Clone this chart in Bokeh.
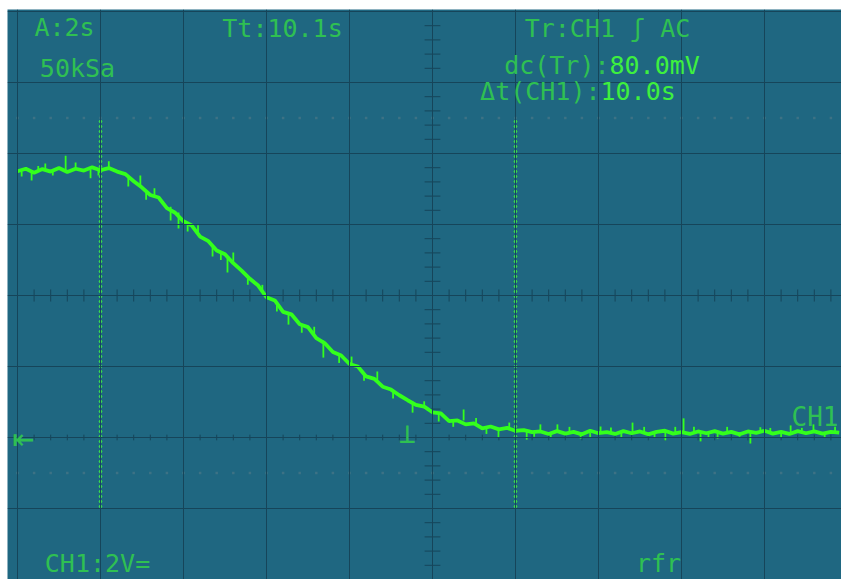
import numpy as np
from bokeh.plotting import figure
from bokeh.models import Range1d, Span, Label
from bokeh.embed import file_html
from bokeh.resources import INLINE

# ---------------- data ----------------
sample_dt = 0.2  # s between samples
ch1_volts = [
    # 0.0 .. 2.4 s (flat, ~7.5 V)
    7.50, 7.57, 7.46, 7.56, 7.49, 7.59, 7.48, 7.57, 7.52, 7.61, 7.53, 7.59, 7.49,
    # 2.6 .. 12.4 s (falling edge)
    7.42, 7.22, 7.04, 6.83, 6.76, 6.46, 6.33, 6.09, 5.97, 5.66,
    5.53, 5.27, 5.16, 4.91, 4.70, 4.47, 4.28, 3.95, 3.86, 3.54,
    3.47, 3.19, 3.11, 2.80, 2.66, 2.41, 2.31, 2.07, 2.00, 1.72,
    1.65, 1.43, 1.35, 1.19, 1.05, 0.92, 0.87, 0.71, 0.68, 0.46,
    0.48, 0.37, 0.40, 0.26, 0.31, 0.23, 0.27, 0.19, 0.21, 0.15,
    # 12.6 .. 19.8 s (settled near 0.14 V)
    0.17, 0.10, 0.18, 0.11, 0.16, 0.09, 0.19, 0.12, 0.15, 0.10,
    0.18, 0.12, 0.17, 0.09, 0.16, 0.19, 0.11, 0.15, 0.10, 0.17,
    0.12, 0.18, 0.11, 0.16, 0.09, 0.17, 0.13, 0.19, 0.11, 0.16,
    0.10, 0.18, 0.12, 0.17, 0.11, 0.16, 0.14,
]
# noise spikes: time, base level, tip level
spike_t  = [0.10, 0.34, 0.50, 0.67, 0.85, 1.16, 1.40, 1.76, 1.95, 2.20,
            2.67, 2.96, 3.10, 3.30, 3.69, 3.88, 4.10, 4.35, 4.70, 4.90,
            5.06, 5.20, 5.55, 5.90, 6.25, 6.53, 6.85, 7.15, 7.37, 7.75,
            8.05, 8.35, 8.67, 9.05, 9.52, 9.80, 10.15, 10.50, 10.75, 11.05,
            11.30, 11.59, 11.85, 12.27, 12.45, 12.60, 12.85, 13.01, 13.30, 13.57,
            13.80, 14.05, 14.30, 14.55, 14.82, 15.10, 15.35, 15.61, 15.85, 16.05,
            16.30, 16.46, 16.65, 16.87, 17.10, 17.40, 17.66, 17.90, 18.14, 18.40,
            18.63, 18.90, 19.18, 19.45, 19.70]
spike_lo = [7.50, 7.52, 7.50, 7.52, 7.50, 7.52, 7.55, 7.55, 7.56, 7.58,
            7.35, 7.10, 6.95, 6.80, 6.50, 6.34, 6.05, 5.76, 5.38, 5.22,
            5.04, 4.93, 4.55, 4.10, 3.78, 3.46, 3.18, 2.92, 2.73, 2.32,
            2.07, 1.82, 1.61, 1.29, 1.01, 0.84, 0.66, 0.49, 0.48, 0.35,
            0.30, 0.25, 0.23, 0.20, 0.17, 0.17, 0.15, 0.17, 0.14, 0.14,
            0.14, 0.14, 0.14, 0.14, 0.14, 0.14, 0.14, 0.14, 0.14, 0.14,
            0.14, 0.14, 0.14, 0.14, 0.14, 0.14, 0.14, 0.14, 0.14, 0.14,
            0.14, 0.14, 0.14, 0.14, 0.14]
spike_hi = [7.35, 7.24, 7.65, 7.72, 7.38, 7.94, 7.75, 7.30, 7.38, 7.78,
            7.07, 7.38, 6.70, 7.02, 6.11, 5.89, 5.80, 5.98, 5.10, 5.00,
            4.65, 5.21, 4.30, 4.30, 3.55, 3.18, 2.95, 3.12, 2.25, 2.10,
            2.28, 1.60, 1.86, 1.10, 0.70, 1.02, 0.45, 0.30, 0.79, 0.55,
            0.10, 0.00, 0.42, -0.06, 0.02, 0.37, 0.00, 0.37, 0.30, -0.03,
            0.01, 0.31, 0.28, 0.00, 0.42, 0.30, 0.01, -0.08, 0.30, 0.54,
            0.30, -0.11, 0.00, -0.03, 0.30, 0.02, -0.17, 0.29, 0.27, 0.00,
            0.34, 0.27, 0.37, 0.01, 0.30]
cursor_t = [2.0, 12.0]          # Δt = 10.0 s
time_div = 2.0                  # s/div
volt_div = 2.0                  # V/div

# ---------------- style ----------------
BG = "#1f6781"
GRID = "#16455a"
DIM = "#2fc052"
BRIGHT = "#3ef03e"
TRACE = "#33ff1c"
FONT = "DejaVu Sans Mono"

PX_T = 41.5   # px per second
PX_V = 35.5   # px per volt
def tx(px):
    return (px - 17) / PX_T
def vy(py):
    return (437 - py) / PX_V

p = figure(width=841, height=579, output_backend="svg", toolbar_location=None,
           x_axis_location=None, y_axis_location=None,
           x_range=Range1d(tx(7), tx(841)), y_range=Range1d(vy(579), vy(9)),
           min_border_left=7, min_border_top=9, min_border_right=0, min_border_bottom=0,
           background_fill_color=BG, border_fill_color="white", outline_line_color=None)
p.grid.visible = False

# graticule
for k in range(10):
    p.add_layout(Span(location=k * time_div, dimension="height", line_color=GRID, line_width=1))
for k in range(-2, 7):
    p.add_layout(Span(location=k * volt_div, dimension="width", line_color=GRID, line_width=1))

# centre-line ticks
ct = np.arange(0, 20, time_div / 5)
p.segment(ct, 4 - 0.17, ct, 4 + 0.17, line_color=GRID, line_width=1)
cv = np.arange(-4, 12.1, volt_div / 5)
p.segment(10 - 0.19, cv, 10 + 0.19, cv, line_color=GRID, line_width=1)
p.segment(ct, -0.08, ct, 0.08, line_color=GRID, line_width=1)
# dotted rows
p.scatter(ct, np.full(len(ct), 9.0), marker="square", size=2.5, color="#3d7285", line_color=None)
p.scatter(ct, np.full(len(ct), -1.0), marker="square", size=2.5, color="#3d7285", line_color=None)

# cursors (dotted)
dot_v = np.arange(vy(506), 9.0 + 0.01, 5 / PX_V)
for ctime in cursor_t:
    p.scatter(np.full(len(dot_v), ctime), dot_v, marker="circle", size=3.6,
              color="#3ad94e", line_color=None)

# trace
t = np.arange(len(ch1_volts)) * sample_dt
p.segment(spike_t, spike_lo, spike_t, spike_hi, line_color=TRACE, line_width=1.8)
p.line(t, ch1_volts, line_color=TRACE, line_width=3.8)

SHIFT = 9  # compensate baseline offset
def lab(text, x, y, color=DIM, align="center", size="25px"):
    p.add_layout(Label(x=tx(x), y=vy(y - SHIFT), text=text, text_font=FONT, text_font_size=size,
                       text_color=color, text_align=align, text_baseline="alphabetic"))

lab("A:2s", 64, 36)
lab("50kSa", 77, 77)
lab("Tt:10.1s", 282, 37)
lab("Tr:CH1 ʃ AC", 607, 37)
lab("dc(Tr):", 609, 74, align="right")
lab("80.0mV", 609, 74, color=BRIGHT, align="left")
lab("Δt(CH1):", 600, 100, align="right")
lab("10.0s", 600, 100, color=BRIGHT, align="left")
lab("CH1:2V=", 97, 572)
lab("rfr", 658, 572)
lab("CH1", 791, 425, align="left", size="26px")
lab("⊥", 407, 442, size="28px")
lab("⇤", 12, 446, align="left", size="36px")

open("out.html", "w").write(file_html(p, INLINE))
